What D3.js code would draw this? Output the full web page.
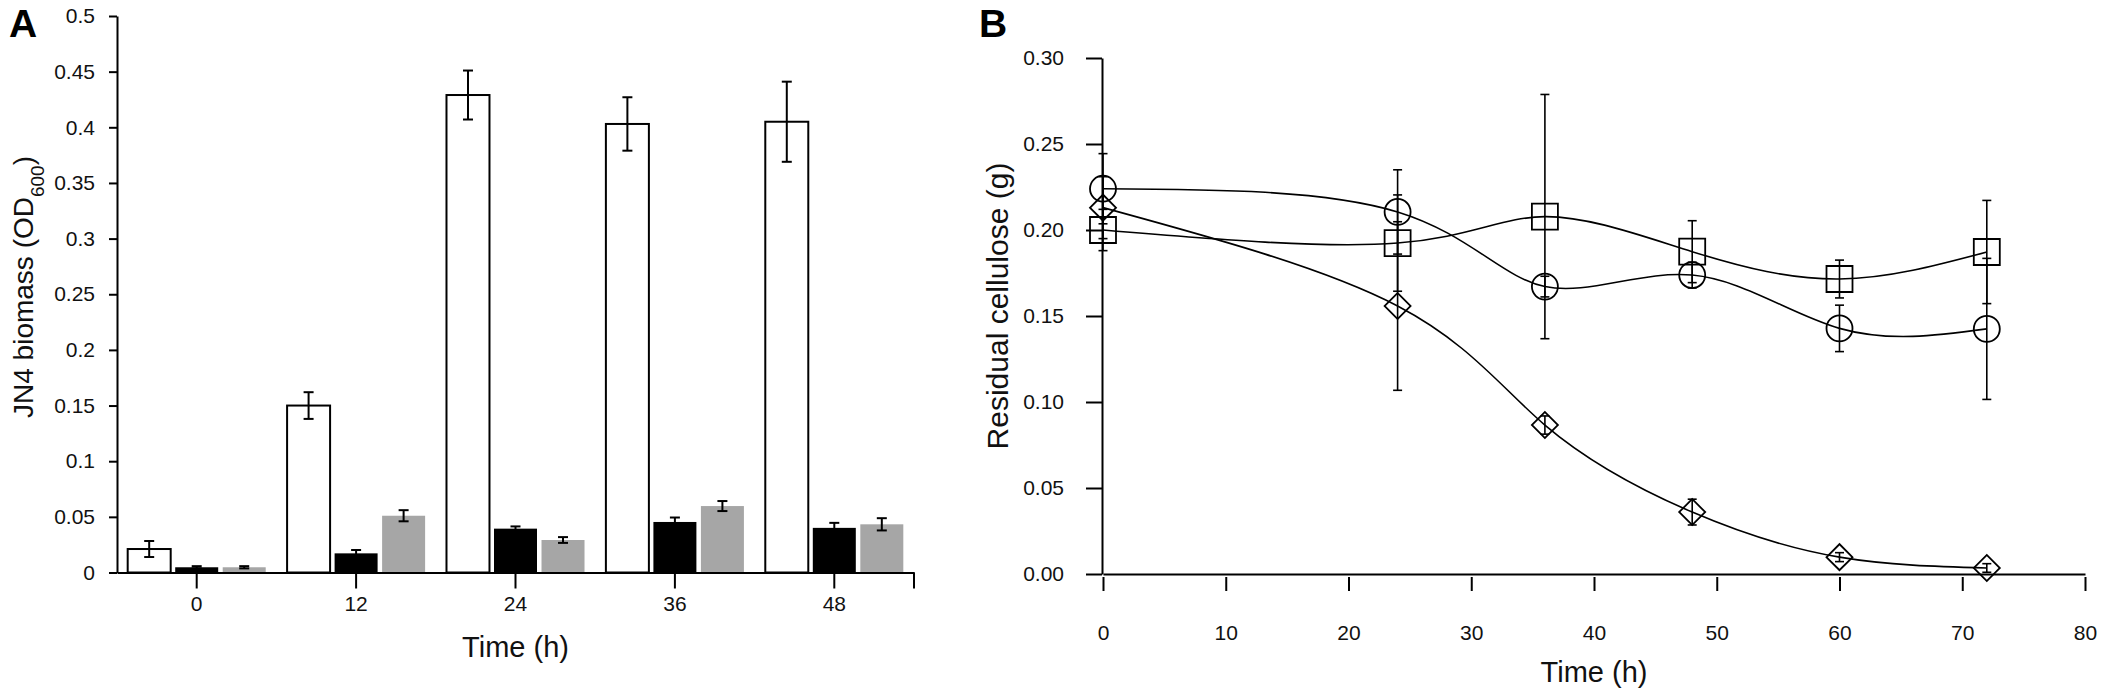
<!DOCTYPE html>
<html lang="en">
<head>
<meta charset="UTF-8">
<script src="https://d3js.org/d3.v7.min.js"></script>
<title>JN4 biomass and residual cellulose</title>
<style>
    body { margin: 0; background: white; }
    svg { display: block; }
    .tick text, .lbl { font-family: "Liberation Sans", Arial, Helvetica, sans-serif; font-weight: normal; fill: #111; }
    .panel { font-family: "Liberation Sans", Arial, sans-serif; font-weight: bold; font-size: 39px; }
</style>
</head>
<body>
<svg></svg>
<script>
// ---- Panel A: JN4 biomass (OD600), three bars per time point ----
const timesA = ["0", "12", "24", "36", "48"];
const seriesA = ["open", "black", "gray"];
const openMean  = [0.0211, 0.150, 0.4290, 0.4030, 0.4050];
const openErr   = [0.0072, 0.012, 0.0220, 0.0240, 0.0360];
const blackMean = [0.0047, 0.0172, 0.0394, 0.0454, 0.0401];
const blackErr  = [0.0010, 0.0030, 0.0020, 0.0040, 0.0045];
const grayMean  = [0.0047, 0.0510, 0.0292, 0.0597, 0.0433];
const grayErr   = [0.0010, 0.0050, 0.0026, 0.0045, 0.0055];
const yTicksA = [0, 0.05, 0.1, 0.15, 0.2, 0.25, 0.3, 0.35, 0.4, 0.45, 0.5];

// ---- Panel B: residual cellulose (g) ----
const timesB = [0, 24, 36, 48, 60, 72];
const circleMean  = [0.2240, 0.2105, 0.1671, 0.1738, 0.1428, 0.1425];
const circleErr   = [0.0204, 0.0245, 0.0060, 0.0075, 0.0135, 0.0410];
const squareMean  = [0.2000, 0.1924, 0.2078, 0.1874, 0.1715, 0.1872];
const squareErr   = [0.0120, 0.0280, 0.0710, 0.0180, 0.0110, 0.0300];
const diamondMean = [0.2130, 0.1558, 0.0866, 0.0360, 0.0098, 0.0035];
const diamondErr  = [0.0180, 0.0490, 0.0053, 0.0075, 0.0026, 0.0025];
const xTicksB = [0, 10, 20, 30, 40, 50, 60, 70, 80];
const yTicksB = [0, 0.05, 0.10, 0.15, 0.20, 0.25, 0.30];

const W = 2102, H = 690;
const svg = d3.select("svg").attr("width", W).attr("height", H);

// ================= Panel A =================
const xA = d3.scaleBand().domain(timesA).range([117, 914]).padding(0);
const xA1 = d3.scaleBand().domain(seriesA).range([0, xA.bandwidth()])
    .paddingInner(0.095).paddingOuter(0.225);
const yA = d3.scaleLinear().domain([0, 0.5]).range([572.5, 16]);

const barsA = [];
timesA.forEach((t, i) => {
    barsA.push({t, s: "open",  v: openMean[i],  e: openErr[i]});
    barsA.push({t, s: "black", v: blackMean[i], e: blackErr[i]});
    barsA.push({t, s: "gray",  v: grayMean[i],  e: grayErr[i]});
});

const gA = svg.append("g");

gA.selectAll("rect.bar")
    .data(barsA)
    .enter()
    .append("rect")
    .attr("class", "bar")
    .attr("x", d => xA(d.t) + xA1(d.s))
    .attr("width", xA1.bandwidth())
    .attr("y", d => yA(d.v))
    .attr("height", d => yA(0) - yA(d.v))
    .attr("fill", d => d.s == "open" ? "white" : d.s == "black" ? "black" : "#a6a6a6")
    .attr("stroke", d => d.s == "open" ? "black" : "none")
    .attr("stroke-width", 2);

const errA = gA.selectAll("g.err")
    .data(barsA)
    .enter()
    .append("g")
    .attr("class", "err")
    .attr("stroke", "black")
    .attr("stroke-width", 2);
const cxA = d => xA(d.t) + xA1(d.s) + xA1.bandwidth() / 2;
errA.append("line")
    .attr("x1", cxA).attr("x2", cxA)
    .attr("y1", d => yA(d.v + d.e)).attr("y2", d => yA(d.v - d.e));
errA.append("line")
    .attr("x1", d => cxA(d) - 5).attr("x2", d => cxA(d) + 5)
    .attr("y1", d => yA(d.v + d.e)).attr("y2", d => yA(d.v + d.e));
errA.append("line")
    .attr("x1", d => cxA(d) - 5).attr("x2", d => cxA(d) + 5)
    .attr("y1", d => yA(d.v - d.e)).attr("y2", d => yA(d.v - d.e));

// axes A
const yAxisA = d3.axisLeft(yA)
    .tickValues(yTicksA)
    .tickSize(8)
    .tickSizeOuter(0)
    .tickPadding(14)
    .tickFormat(d => d === 0 ? "0" : String(+d.toFixed(2)));
const gyA = gA.append("g").attr("transform", "translate(117,0)").call(yAxisA);

const xAxisA = d3.axisBottom(xA).tickSize(16).tickSizeOuter(0).tickPadding(8);
const gxA = gA.append("g").attr("transform", "translate(0," + yA(0) + ")").call(xAxisA);
// right end tick of the category axis
gxA.append("line")
    .attr("x1", xA.range()[1]).attr("x2", xA.range()[1])
    .attr("y1", 0).attr("y2", 16);

[gyA, gxA].forEach(g => {
    g.selectAll("path, line").attr("stroke", "black").attr("stroke-width", 2);
    g.selectAll("text").attr("class", "lbl").style("font-size", "21px");
});

gA.append("text")
    .attr("class", "lbl")
    .attr("transform", "translate(33,287) rotate(-90)")
    .style("text-anchor", "middle")
    .style("font-size", "28px")
    .html('JN4 biomass (OD<tspan baseline-shift="sub" font-size="19px">600</tspan>)');

gA.append("text")
    .attr("class", "lbl")
    .attr("x", (xA.range()[0] + xA.range()[1]) / 2)
    .attr("y", 657)
    .style("text-anchor", "middle")
    .style("font-size", "29px")
    .text("Time (h)");

svg.append("text").attr("class", "panel").attr("x", 9).attr("y", 37).text("A");

// ================= Panel B =================
const xB = d3.scaleLinear().domain([0, 80]).range([1103, 2085]);
const yB = d3.scaleLinear().domain([0, 0.3]).range([574, 58]);

const seriesB = [
    {name: "circle",  mean: circleMean,  err: circleErr},
    {name: "square",  mean: squareMean,  err: squareErr},
    {name: "diamond", mean: diamondMean, err: diamondErr}
];

const gB = svg.append("g");

const yAxisB = d3.axisLeft(yB)
    .tickValues(yTicksB)
    .tickSize(16)
    .tickSizeOuter(0)
    .tickPadding(22)
    .tickFormat(d3.format(".2f"));
const gyB = gB.append("g").attr("transform", "translate(1102,0)").call(yAxisB);

const xAxisB = d3.axisBottom(xB)
    .tickValues(xTicksB)
    .tickSize(17)
    .tickSizeOuter(0)
    .tickPadding(34)
    .tickFormat(d3.format("d"));
const gxB = gB.append("g").attr("transform", "translate(0," + yB(0) + ")").call(xAxisB);

[gyB, gxB].forEach(g => {
    g.selectAll("path, line").attr("stroke", "black").attr("stroke-width", 2);
    g.selectAll("text").attr("class", "lbl").style("font-size", "21px");
});
// x ticks start just below the axis line
gxB.selectAll(".tick line").attr("y1", 3);

const line = d3.line()
    .x((d, i) => xB(timesB[i]))
    .y(d => yB(d))
    .curve(d3.curveNatural);

gB.selectAll("path.curve")
    .data(seriesB)
    .enter()
    .append("path")
    .attr("class", "curve")
    .attr("d", d => line(d.mean))
    .attr("fill", "none")
    .attr("stroke", "black")
    .attr("stroke-width", 1.6);

const pointsB = [];
seriesB.forEach(s => {
    timesB.forEach((t, i) => pointsB.push({name: s.name, t, v: s.mean[i], e: s.err[i]}));
});

const errB = gB.selectAll("g.errb")
    .data(pointsB)
    .enter()
    .append("g")
    .attr("class", "errb")
    .attr("stroke", "black")
    .attr("stroke-width", 1.6);
errB.append("line")
    .attr("x1", d => xB(d.t)).attr("x2", d => xB(d.t))
    .attr("y1", d => yB(d.v + d.e)).attr("y2", d => yB(d.v - d.e));
errB.append("line")
    .attr("x1", d => xB(d.t) - 4.5).attr("x2", d => xB(d.t) + 4.5)
    .attr("y1", d => yB(d.v + d.e)).attr("y2", d => yB(d.v + d.e));
errB.append("line")
    .attr("x1", d => xB(d.t) - 4.5).attr("x2", d => xB(d.t) + 4.5)
    .attr("y1", d => yB(d.v - d.e)).attr("y2", d => yB(d.v - d.e));

const symbolPath = {
    circle:  d3.symbol().type(d3.symbolCircle).size(Math.PI * 13 * 13)(),
    square:  d3.symbol().type(d3.symbolSquare).size(26 * 26)(),
    diamond: d3.symbol().type(d3.symbolSquare).size(2 * 13 * 13)()
};

gB.selectAll("path.marker")
    .data(pointsB)
    .enter()
    .append("path")
    .attr("class", "marker")
    .attr("d", d => symbolPath[d.name])
    .attr("transform", d => "translate(" + xB(d.t) + "," + yB(d.v) + ")" + (d.name == "diamond" ? " rotate(45)" : ""))
    .attr("fill", "none")
    .attr("stroke", "black")
    .attr("stroke-width", 1.8);

gB.append("text")
    .attr("class", "lbl")
    .attr("transform", "translate(1008,306) rotate(-90)")
    .style("text-anchor", "middle")
    .style("font-size", "30px")
    .text("Residual cellulose (g)");

gB.append("text")
    .attr("class", "lbl")
    .attr("x", (xB.range()[0] + xB.range()[1]) / 2)
    .attr("y", 682)
    .style("text-anchor", "middle")
    .style("font-size", "29px")
    .text("Time (h)");

svg.append("text").attr("class", "panel").attr("x", 979).attr("y", 37).text("B");
</script>
</body>
</html>
